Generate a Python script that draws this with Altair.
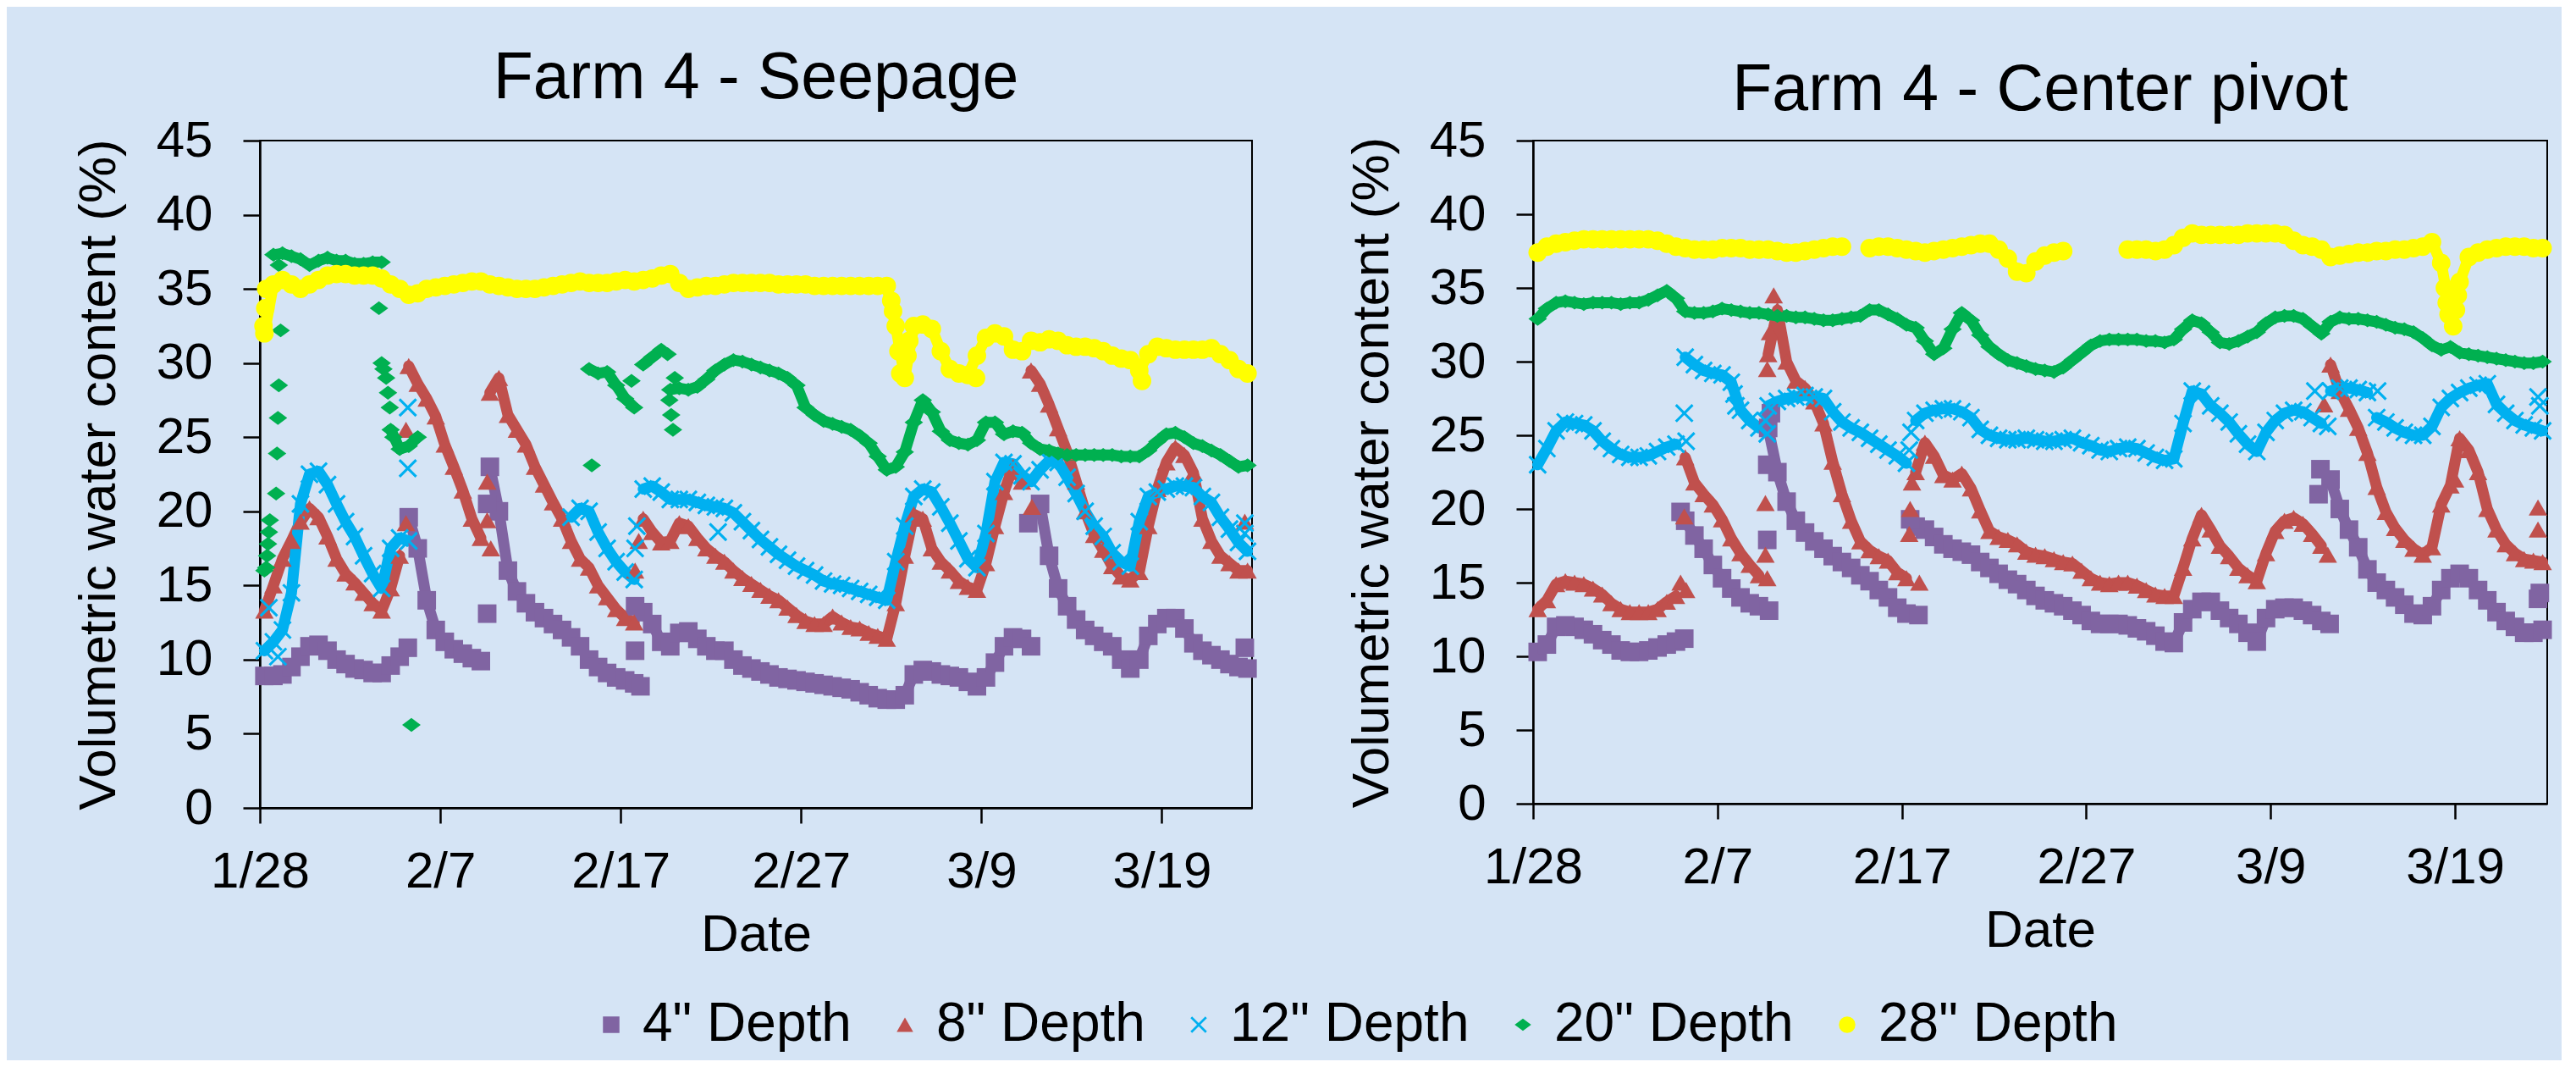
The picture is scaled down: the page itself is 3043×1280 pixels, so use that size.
import altair as alt
import pandas as pd

# ---------------- data ----------------
SERIES = ['4" Depth', '8" Depth', '12" Depth', '20" Depth', '28" Depth']
COLORS = ["#8064A2", "#C0504D", "#00B0F0", "#00B050", "#FFFF00"]
XPATH = "M-1,-0.8L-0.8,-1L0,-0.2L0.8,-1L1,-0.8L0.2,0L1,0.8L0.8,1L0,0.2L-0.8,1L-1,0.8L-0.2,0Z"
DIAMOND = "M-1,0L0,-0.75L1,0L0,0.75Z"
SHAPES = ["square", "triangle-up", XPATH, DIAMOND, "circle"]

START = "2011-01-28"
TICK_DATES = [(1, 28), (2, 7), (2, 17), (2, 27), (3, 9), (3, 19)]
Y_TICKS = [0, 5, 10, 15, 20, 25, 30, 35, 40, 45]

# readings every half day, starting 6 h after 1/28 (days since 1/28)
DAYS = [0.25 + 0.5 * k for k in range(110)]
N = None

# ---- Farm 4 - Seepage ----
seep_4 = [
    8.9, 8.9, 9.0, 9.5, 10.2, 10.9, 11.0, 10.6, 10.0, 9.7,
    9.4, 9.3, 9.1, 9.1, 9.6, 10.2, 19.6, 17.5, 14.0, 12.0,
    11.2, 10.7, 10.4, 10.1, 9.9, 23.0, 20.0, 16.0, 14.6, 13.8,
    13.2, 12.8, 12.4, 12.0, 11.5, 10.9, 10.0, 9.5, 9.1, 8.8,
    8.6, 8.4, 13.2, 12.4, 11.2, 10.9, 11.8, 11.9, 11.4, 10.9,
    10.6, 10.6, 10.0, 9.6, 9.4, 9.2, 9.0, 8.8, 8.7, 8.6,
    8.5, 8.4, 8.3, 8.2, 8.1, 8.0, 7.8, 7.6, 7.4, 7.3,
    7.3, 7.6, 9.0, 9.3, 9.2, 9.0, 8.9, 8.8, 8.5, 8.2,
    8.8, 9.8, 10.9, 11.5, 11.4, 10.9, 20.5, 17.0, 14.8, 13.6,
    12.7, 12.0, 11.6, 11.2, 10.9, 10.0, 9.4, 10.0, 11.6, 12.4,
    12.8, 12.8, 12.1, 11.1, 10.6, 10.3, 10.0, 9.7, 9.5, 9.4,
]
seep_4_extra = [(8.2, 10.8), (12.6, 13.1), (12.6, 20.5), (21.1, 8.2), (20.8, 13.6),
                (20.8, 10.6), (42.6, 19.2), (54.6, 10.8)]
seep_4_breaks = [8.25, 12.75, 21.25, 43.25]

seep_8 = [
    13.3, 15.0, 16.8, 18.0, 19.3, 20.2, 19.6, 18.3, 16.8, 15.8,
    15.2, 14.5, 13.8, 13.3, 14.8, 17.0, 29.8, 28.6, 27.6, 26.4,
    24.5, 23.0, 21.4, 19.5, 18.2, 28.0, 29.0, 26.5, 25.5, 24.5,
    23.0, 21.8, 20.6, 19.5, 18.0, 16.8, 16.2, 15.0, 14.2, 13.4,
    12.8, 12.5, 19.5, 18.6, 17.9, 18.0, 19.2, 19.0, 18.2, 17.5,
    17.0, 16.6, 16.0, 15.5, 15.1, 14.7, 14.3, 14.0, 13.5, 13.0,
    12.6, 12.4, 12.4, 12.9, 12.5, 12.2, 12.1, 11.8, 11.6, 11.4,
    13.8, 17.0, 19.8, 19.5, 17.5, 16.6, 16.0, 15.3, 14.9, 14.7,
    16.5, 19.0, 21.3, 23.0, 22.0, 29.5, 28.6, 27.2, 25.6, 24.0,
    22.0, 20.0, 18.4, 17.4, 16.3, 15.6, 15.4, 15.9, 19.0, 21.5,
    23.3, 24.3, 23.8, 22.6, 19.5, 18.0, 17.0, 16.5, 16.0, 16.0,
]
seep_8_extra = [(8.1, 19.2), (8.1, 25.5), (12.6, 22.0), (12.6, 19.4), (12.8, 17.5),
                (20.8, 16.0), (21.0, 18.0), (42.8, 20.3), (54.6, 19.3)]
seep_8_breaks = [8.25, 12.75, 21.25, 42.75]

seep_12 = [
    10.6, 11.2, 12.0, 14.5, 20.5, 22.5, 22.7, 21.8, 20.5, 19.3,
    18.3, 17.0, 15.8, 14.8, 17.5, 18.2, 18.0, N, N, N,
    N, N, N, N, N, N, N, N, N, N,
    N, N, N, N, 19.6, 20.2, 20.0, 18.6, 17.5, 16.6,
    15.9, 15.4, 21.5, 21.7, 21.3, 20.8, 20.8, 20.8, 20.6, 20.4,
    20.3, 20.2, 19.9, 19.3, 18.7, 18.1, 17.6, 17.1, 16.7, 16.3,
    16.0, 15.7, 15.3, 15.1, 15.0, 14.8, 14.6, 14.4, 14.2, 14.0,
    16.6, 19.0, 21.0, 21.5, 21.3, 20.3, 19.2, 18.0, 16.8, 16.2,
    18.5, 22.0, 23.3, 23.2, 22.4, 22.0, 22.8, 23.4, 23.3, 22.3,
    21.2, 20.0, 19.0, 18.3, 17.2, 16.6, 16.3, 19.3, 21.0, 21.3,
    21.5, 21.7, 21.7, 21.6, 21.0, 20.6, 19.6, 18.8, 17.9, 17.3,
]
seep_12_extra = [(8.2, 27.0), (8.2, 22.9), (20.9, 19.0), (20.8, 17.5), (25.4, 18.6),
                 (54.6, 18.5), (54.6, 19.2), (0.5, 13.5), (1.0, 10.2)]
seep_12_breaks = [21.25]

seep_20 = [
    16.0, 37.3, 37.4, 37.2, 37.0, 36.6, 36.9, 37.1, 36.9, 36.9,
    36.7, 36.7, 36.8, 36.8, 25.5, 24.2, 24.4, 25.0, N, N,
    N, N, N, N, N, N, N, N, N, N,
    N, N, N, N, N, N, 29.6, 29.3, 29.4, 28.5,
    27.6, 27.0, 29.9, 30.4, 30.9, 28.2, 28.3, 28.2, 28.4, 28.9,
    29.5, 29.9, 30.2, 30.1, 29.9, 29.7, 29.5, 29.3, 29.0, 28.5,
    27.0, 26.5, 26.1, 25.9, 25.7, 25.5, 25.1, 24.6, 23.7, 22.8,
    23.0, 24.0, 26.0, 27.5, 26.7, 25.4, 24.8, 24.6, 24.5, 24.8,
    26.0, 26.0, 25.2, 25.4, 25.3, 24.6, 24.2, 24.1, 23.9, 23.8,
    23.8, 23.8, 23.8, 23.8, 23.8, 23.7, 23.7, 23.7, 24.1, 24.7,
    25.2, 25.3, 25.0, 24.6, 24.4, 24.1, 23.8, 23.4, 23.0, 23.1,
]
seep_20_extra = [(0.35, 16.2), (0.4, 17.0), (0.45, 17.8), (0.5, 18.6), (0.55, 19.4),
                 (0.9, 21.2), (0.95, 23.9), (1.0, 26.3), (1.05, 28.5), (1.15, 32.2),
                 (1.05, 36.6), (6.6, 33.7), (6.75, 30.0), (6.85, 29.6), (7.0, 29.0),
                 (7.1, 28.0), (7.2, 27.0), (7.4, 25.0), (8.4, 5.6), (18.4, 23.1),
                 (20.6, 28.8), (22.6, 30.6), (22.7, 27.5), (22.8, 26.5), (22.9, 25.5),
                 (23.0, 29.0)]
seep_20_breaks = [0.75, 7.25, 21.25, 22.75]

seep_28 = [
    32.0, 35.3, 35.6, 35.3, 35.0, 35.3, 35.6, 35.9, 36.0, 36.0,
    35.9, 35.9, 35.9, 35.7, 35.3, 35.0, 34.6, 34.7, 35.0, 35.1,
    35.2, 35.3, 35.4, 35.5, 35.5, 35.3, 35.2, 35.1, 35.0, 35.0,
    35.0, 35.1, 35.2, 35.3, 35.4, 35.5, 35.4, 35.4, 35.4, 35.5,
    35.6, 35.5, 35.6, 35.7, 35.9, 36.0, 35.4, 35.0, 35.1, 35.2,
    35.2, 35.3, 35.4, 35.4, 35.4, 35.4, 35.4, 35.3, 35.3, 35.3,
    35.3, 35.2, 35.2, 35.2, 35.2, 35.2, 35.2, 35.2, 35.2, 35.2,
    32.5, 29.0, 32.5, 32.6, 32.3, 30.8, 29.6, 29.3, 29.2, 30.5,
    31.7, 32.0, 31.8, 30.9, 30.8, 31.5, 31.4, 31.6, 31.5, 31.2,
    31.1, 31.1, 31.0, 30.8, 30.5, 30.3, 30.2, 29.5, 30.6, 31.1,
    31.0, 30.9, 30.9, 30.9, 30.9, 31.0, 30.6, 30.2, 29.6, 29.3,
]
seep_28_extra = [(0.3, 33.7), (0.35, 35.0), (0.2, 32.5), (35.0, 34.2), (35.1, 33.5),
                 (35.4, 30.8), (35.5, 29.3), (35.9, 30.5), (36.0, 31.5), (39.7, 29.0),
                 (48.9, 28.8)]
seep_28_breaks = []

# ---- Farm 4 - Center pivot ----
piv_4 = [
    10.3, 10.8, 12.0, 12.1, 12.0, 11.8, 11.5, 11.1, 10.8, 10.4,
    10.3, 10.3, 10.4, 10.6, 10.8, 11.0, 19.2, 18.2, 17.3, 16.2,
    15.3, 14.6, 14.0, 13.6, 13.4, 25.5, 22.5, 20.5, 19.2, 18.4,
    17.8, 17.3, 16.8, 16.4, 16.0, 15.5, 15.1, 14.5, 14.0, 13.3,
    12.9, 18.8, 18.6, 18.1, 17.6, 17.3, 17.1, 16.9, 16.4, 16.0,
    15.6, 15.2, 14.9, 14.5, 14.1, 13.8, 13.6, 13.4, 13.1, 12.8,
    12.4, 12.2, 12.2, 12.2, 12.1, 11.9, 11.7, 11.4, 11.0, 10.9,
    12.3, 13.2, 13.7, 13.7, 13.1, 12.6, 12.2, 11.6, 11.0, 12.6,
    13.2, 13.3, 13.3, 13.1, 12.8, 12.4, 22.0, 20.0, 18.6, 17.4,
    15.9, 15.0, 14.5, 14.0, 13.5, 12.9, 12.8, 13.4, 14.5, 15.3,
    15.6, 15.3, 14.5, 13.8, 13.0, 12.4, 12.0, 11.6, 11.6, 11.8,
]
piv_4_extra = [(8.2, 11.2), (8.0, 19.8), (12.8, 13.1), (12.7, 17.9), (12.7, 23.0),
               (12.9, 26.5), (20.45, 19.3), (20.9, 12.8), (43.2, 12.2), (42.6, 21.0),
               (42.7, 22.7), (54.5, 13.9), (54.6, 14.3)]
piv_4_breaks = [8.25, 12.75, 20.75, 43.25]

piv_8 = [
    13.2, 13.8, 14.9, 15.1, 15.0, 14.9, 14.6, 14.2, 13.6, 13.2,
    13.0, 13.0, 13.0, 13.2, 13.7, 14.1, 23.5, 21.8, 21.0, 20.3,
    19.3, 18.0, 17.0, 16.2, 15.5, 30.5, 33.5, 30.0, 28.7, 28.2,
    27.3, 25.8, 23.2, 21.0, 19.2, 17.8, 17.2, 16.8, 16.5, 15.7,
    15.3, 22.5, 24.5, 23.6, 22.3, 22.0, 22.4, 21.4, 19.9, 18.5,
    18.1, 17.9, 17.6, 17.1, 16.9, 16.8, 16.6, 16.4, 16.3, 15.8,
    15.3, 15.0, 14.9, 15.0, 15.0, 14.8, 14.5, 14.2, 14.1, 14.1,
    16.0, 18.0, 19.6, 18.6, 17.5, 16.8, 16.0, 15.5, 15.1, 17.0,
    18.5, 19.2, 19.4, 19.0, 18.3, 17.5, 29.8, 28.0, 26.8, 25.5,
    23.8, 21.5, 19.8, 18.7, 17.9, 17.3, 16.9, 17.4, 20.3, 21.6,
    24.8, 24.0, 22.5, 20.0, 18.6, 17.6, 17.0, 16.6, 16.5, 16.4,
]
piv_8_extra = [(8.0, 15.0), (8.2, 19.5), (8.3, 14.5), (12.7, 15.3), (12.6, 20.4),
               (12.6, 16.9), (12.7, 29.5), (12.85, 32.0), (13.05, 34.5), (20.4, 18.3),
               (20.45, 20.0), (20.55, 21.8), (20.95, 15.0), (42.9, 27.1), (43.1, 16.9),
               (50.0, 22.0), (54.5, 20.1), (54.5, 18.6)]
piv_8_breaks = [8.25, 12.75, 20.75, 43.25]

piv_12 = [
    23.0, 24.1, 25.3, 25.9, 25.8, 25.7, 25.3, 24.6, 24.1, 23.7,
    23.5, 23.5, 23.6, 23.9, 24.2, 24.4, 30.3, 29.8, 29.4, 29.2,
    29.1, 28.6, 26.7, 26.0, 25.5, 27.0, 27.3, 27.5, 27.6, 27.7,
    27.6, 27.5, 26.6, 25.9, 25.5, 25.2, 24.8, 24.4, 24.0, 23.6,
    23.1, 26.0, 26.5, 26.7, 26.8, 26.8, 26.6, 26.2, 25.4, 25.0,
    24.8, 24.7, 24.7, 24.8, 24.7, 24.6, 24.6, 24.7, 24.8, 24.5,
    24.3, 24.0, 23.9, 24.1, 24.2, 24.1, 23.8, 23.5, 23.3, 23.4,
    25.8, 28.0, 27.8, 27.0, 26.5, 25.9, 25.1, 24.4, 23.9, 25.2,
    26.0, 26.5, 26.7, 26.6, 26.2, 25.8, 28.0, 28.2, 28.2, 28.1,
    27.9, 26.2, 25.9, 25.5, 25.2, 25.0, 25.0, 25.6, 26.9, 27.5,
    27.9, 28.2, 28.4, 28.5, 27.1, 26.5, 26.0, 25.7, 25.5, 25.3,
]
piv_12_extra = [(8.2, 26.5), (8.3, 24.6), (10.9, 27.8), (11.0, 27.0), (12.7, 25.1),
                (12.6, 26.0), (20.4, 24.0), (20.5, 25.2), (42.4, 28.0), (43.1, 25.6),
                (45.8, 28.0), (54.5, 27.6), (54.6, 27.0)]
piv_12_breaks = [8.25, 12.75, 20.75, 43.25, 45.75]

piv_20 = [
    32.9, 33.6, 34.0, 34.1, 34.0, 33.9, 34.0, 34.0, 34.0, 33.9,
    34.0, 34.0, 34.2, 34.5, 34.8, 34.3, 33.4, 33.3, 33.3, 33.4,
    33.6, 33.5, 33.4, 33.3, 33.3, 33.2, 33.1, 33.1, 33.0, 33.0,
    32.9, 32.8, 32.8, 32.9, 33.0, 33.1, 33.5, 33.5, 33.2, 32.9,
    32.5, 32.3, 31.4, 30.5, 30.9, 32.2, 33.3, 32.8, 31.8, 31.0,
    30.5, 30.1, 29.9, 29.7, 29.5, 29.4, 29.3, 29.6, 30.1, 30.6,
    31.1, 31.4, 31.5, 31.5, 31.5, 31.5, 31.4, 31.4, 31.3, 31.5,
    32.2, 32.8, 32.6, 32.0, 31.3, 31.2, 31.4, 31.7, 32.0, 32.6,
    33.0, 33.1, 33.1, 32.9, 32.4, 31.9, 32.7, 33.0, 32.9, 32.9,
    32.8, 32.7, 32.5, 32.3, 32.2, 32.0, 31.6, 31.1, 30.8, 31.0,
    30.6, 30.5, 30.4, 30.3, 30.2, 30.1, 30.0, 29.9, 29.9, 30.0,
]
piv_20_extra = []
piv_20_breaks = []

piv_28 = [
    37.4, 37.8, 38.0, 38.1, 38.2, 38.3, 38.3, 38.3, 38.3, 38.3,
    38.3, 38.3, 38.3, 38.2, 38.0, 37.8, 37.7, 37.6, 37.6, 37.6,
    37.7, 37.7, 37.7, 37.6, 37.6, 37.6, 37.5, 37.4, 37.4, 37.5,
    37.6, 37.7, 37.8, 37.8, N, N, 37.7, 37.8, 37.8, 37.7,
    37.6, 37.5, 37.4, 37.5, 37.6, 37.7, 37.8, 37.9, 38.0, 38.0,
    37.6, 37.0, 36.1, 36.0, 36.8, 37.2, 37.4, 37.5, N, N,
    N, N, N, N, 37.6, 37.6, 37.6, 37.5, 37.6, 37.9,
    38.4, 38.7, 38.6, 38.6, 38.6, 38.6, 38.6, 38.7, 38.7, 38.7,
    38.7, 38.6, 38.2, 37.9, 37.8, 37.6, 37.1, 37.2, 37.3, 37.4,
    37.4, 37.5, 37.5, 37.6, 37.6, 37.7, 37.8, 38.1, 36.7, 33.2,
    35.4, 37.1, 37.4, 37.6, 37.7, 37.8, 37.8, 37.8, 37.7, 37.7,
]
piv_28_extra = [(49.45, 35.0), (49.55, 34.0), (49.65, 33.2), (49.9, 32.4),
                (50.05, 33.5), (50.15, 34.5)]
piv_28_breaks = []

FONT = "Liberation Sans"
BASE = pd.Timestamp(START)


def stamp(d):
    return (BASE + pd.Timedelta(hours=d * 24)).strftime("%Y-%m-%dT%H:%M:%S")


def build_points(series_lists):
    rows = []
    z = 0
    for name, vals, extra, _ in series_lists:
        pts = [(d, v) for d, v in zip(DAYS, vals) if v is not None] + list(extra)
        for d, v in pts:
            rows.append({"series": name, "date": stamp(d), "value": v, "z": z})
            z += 1
    return pd.DataFrame(rows)


def build_trace(vals, breaks):
    # continuous runs of readings, split at gaps and at visible restarts
    rows = []
    seg = 0
    prev_none = True
    for d, v in zip(DAYS, vals):
        if v is None:
            prev_none = True
            continue
        if prev_none or d in breaks:
            seg += 1
        prev_none = False
        rows.append({"seg": seg, "date": stamp(d), "value": v})
    return pd.DataFrame(rows)


seep_lists = [(SERIES[0], seep_4, seep_4_extra, seep_4_breaks),
              (SERIES[1], seep_8, seep_8_extra, seep_8_breaks),
              (SERIES[2], seep_12, seep_12_extra, seep_12_breaks),
              (SERIES[3], seep_20, seep_20_extra, seep_20_breaks),
              (SERIES[4], seep_28, seep_28_extra, seep_28_breaks)]
piv_lists = [(SERIES[0], piv_4, piv_4_extra, piv_4_breaks),
             (SERIES[1], piv_8, piv_8_extra, piv_8_breaks),
             (SERIES[2], piv_12, piv_12_extra, piv_12_breaks),
             (SERIES[3], piv_20, piv_20_extra, piv_20_breaks),
             (SERIES[4], piv_28, piv_28_extra, piv_28_breaks)]

tick_values = [alt.DateTime(year=2011, month=m, date=d) for m, d in TICK_DATES]
x_domain = [alt.DateTime(year=2011, month=1, date=28), alt.DateTime(year=2011, month=3, date=24)]

legend = alt.Legend(title=None, orient="none", legendX=383, legendY=1012,
                    direction="horizontal", columns=5, symbolSize=380,
                    labelFontSize=64, labelFont=FONT, labelColor="black",
                    labelOffset=5, columnPadding=31, labelLimit=0,
                    symbolStrokeWidth=0, symbolOpacity=1, padding=0)

X_ENC = alt.X("date:T", scale=alt.Scale(domain=x_domain, nice=False),
              axis=alt.Axis(values=tick_values, format="%-m/%-d", title="Date",
                            labelFlush=False, labelOverlap=False, tickSize=18,
                            labelPadding=28, titlePadding=14))
Y_ENC = alt.Y("value:Q", scale=alt.Scale(domain=[0, 45], nice=False),
              axis=alt.Axis(values=Y_TICKS, title="Volumetric water content (%)",
                            labelFlush=False, tickSize=20, labelPadding=36,
                            titlePadding=36))


def panel(lists, title, w, h, title_offset):
    traces = []
    for i, (name, vals, extra, breaks) in enumerate(lists):
        traces.append(
            alt.Chart(build_trace(vals, breaks)).mark_line(
                color=COLORS[i], strokeWidth=13, strokeCap="round", strokeJoin="round",
                opacity=1,
            ).encode(x=X_ENC, y=Y_ENC, detail="seg:N")
        )
    points = alt.Chart(build_points(lists)).mark_point(
        filled=True, opacity=1, size=480, strokeWidth=0
    ).encode(
        x=X_ENC, y=Y_ENC,
        color=alt.Color("series:N", scale=alt.Scale(domain=SERIES, range=COLORS), legend=legend),
        shape=alt.Shape("series:N", scale=alt.Scale(domain=SERIES, range=SHAPES), legend=legend),
        order=alt.Order("z:Q"),
    )
    return alt.layer(*traces, points).properties(
        width=w, height=h,
        title=alt.TitleParams(title, fontSize=77, font=FONT, fontWeight="normal",
                              anchor="middle", frame="group", offset=title_offset,
                              color="black"),
    )


chart = alt.hconcat(
    panel(seep_lists, "Farm 4 - Seepage", 1172, 788, 4),
    panel(piv_lists, "Farm 4 - Center pivot", 1198, 783, -10),
    spacing=102,
).resolve_scale(color="shared", shape="shared").properties(
    padding={"left": 76, "top": 45, "right": 10, "bottom": 10},
    background="#d5e4f5",
).configure_view(stroke="black", strokeWidth=2).configure_axis(
    domainColor="black", domainWidth=2.5, tickColor="black", tickWidth=2.5,
    labelFont=FONT, labelFontSize=60, labelColor="black",
    titleFont=FONT, titleFontSize=62, titleFontWeight="normal", titleColor="black",
    grid=False,
)

chart.save("out.html", embed_options={"renderer": "svg", "actions": False})
